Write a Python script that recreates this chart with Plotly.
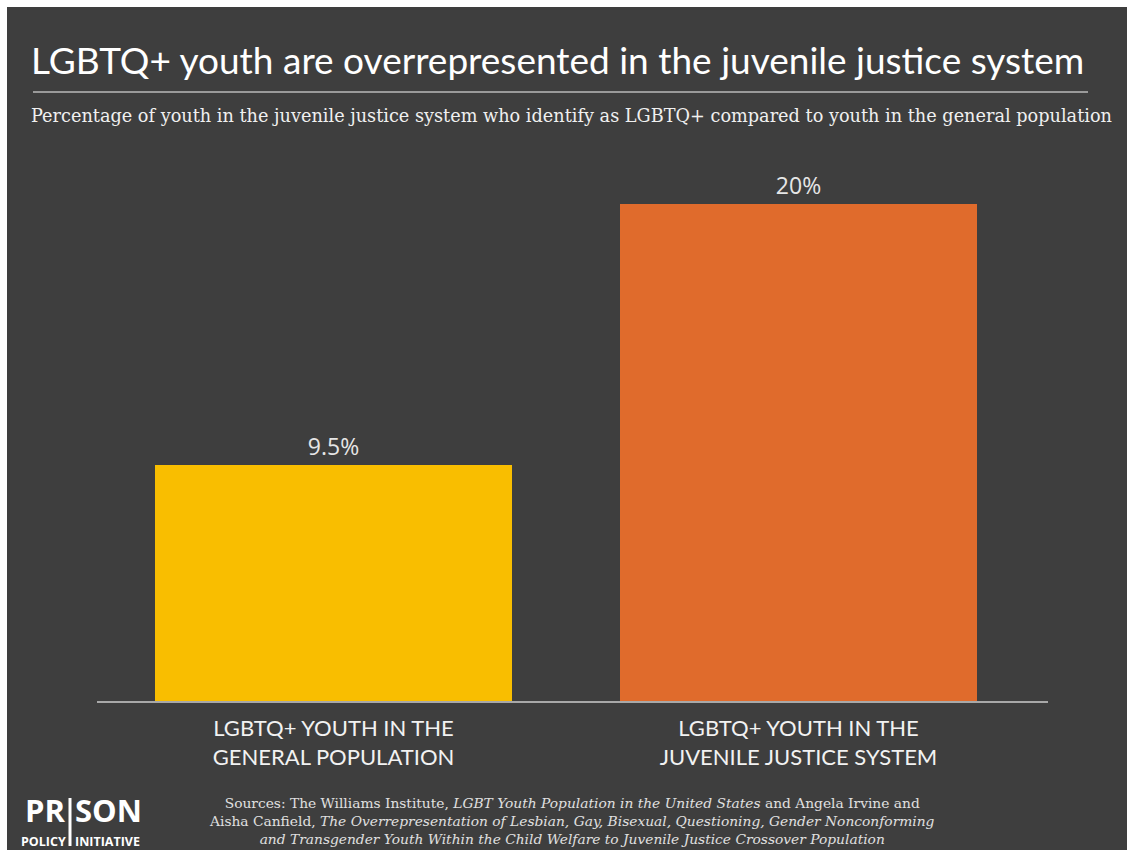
import plotly.graph_objects as go

categories = ["LGBTQ+ YOUTH IN THE<br>GENERAL POPULATION",
              "LGBTQ+ YOUTH IN THE<br>JUVENILE JUSTICE SYSTEM"]
values = [9.5, 20]
value_labels = ["9.5%", "20%"]
bar_colors = ["#F9BE00", "#E06B2C"]

title_text = "LGBTQ+ youth are overrepresented in the juvenile justice system"
subtitle_text = ("Percentage of youth in the juvenile justice system who identify as LGBTQ+ "
                 "compared to youth in the general population")
source_text = ("Sources: The Williams Institute, <i>LGBT Youth Population in the United States</i> and Angela Irvine and<br>"
               "Aisha Canfield, <i>The Overrepresentation of Lesbian, Gay, Bisexual, Questioning, Gender Nonconforming</i><br>"
               "<i>and Transgender Youth Within the Child Welfare to Juvenile Justice Crossover Population</i>")

W, H = 1127, 850
L, R, T, B = 97, 79, 154, 148
pw, ph = W - L - R, H - T - B

def px(x):
    return (x - L) / pw

def py(y):
    return (H - B - y) / ph

BG = "#3e3e3e"
FUT = "Lato, 'Open Sans', sans-serif"
SERIF = "'DejaVu Serif', 'Liberation Serif', serif"
SANS = "'Open Sans', sans-serif"

fig = go.Figure()
xs = list(range(len(values)))
fig.add_trace(go.Bar(
    x=xs, y=values, width=0.768,
    marker=dict(color=bar_colors, line=dict(width=0)),
    text=value_labels, textposition="outside",
    textfont=dict(family=SANS, size=23, color="#e6e6e6"),
    cliponaxis=False, hoverinfo="skip",
))

fig.update_layout(
    width=W, height=H,
    margin=dict(l=L, r=R, t=T, b=B, autoexpand=False),
    paper_bgcolor=BG, plot_bgcolor="rgba(0,0,0,0)",
    showlegend=False,
    bargap=0,
    xaxis=dict(range=[-0.5086, 1.5366], tickvals=xs, ticktext=categories,
               showgrid=False, zeroline=False, showline=False, ticks="",
               ticklabelstandoff=11,
               tickfont=dict(family=FUT, size=22, color="#f2f2f2"),
               fixedrange=True),
    yaxis=dict(range=[0, 22], visible=False, fixedrange=True),
    shapes=[
        # baseline
        dict(type="line", xref="paper", yref="paper", x0=0, x1=1, y0=0, y1=0,
             line=dict(color="#a8a8a8", width=2)),
        # title separator
        dict(type="line", xref="paper", yref="paper", x0=px(33), x1=px(1088),
             y0=py(92), y1=py(92), line=dict(color="#9a9a9a", width=2)),
        # white outer border strips
        dict(type="rect", xref="paper", yref="paper", x0=px(-5), x1=px(W + 5),
             y0=py(7), y1=py(-5), fillcolor="white", line=dict(width=0)),
        dict(type="rect", xref="paper", yref="paper", x0=px(-5), x1=px(7),
             y0=py(-5), y1=py(H + 5), fillcolor="white", line=dict(width=0)),
        # logo separator (the "I")
        dict(type="line", xref="paper", yref="paper", x0=px(70), x1=px(70),
             y0=py(798), y1=py(846), line=dict(color="white", width=3)),
    ],
    annotations=[
        dict(text=title_text, xref="paper", yref="paper", x=px(557), y=py(60),
             xanchor="center", yanchor="middle", showarrow=False,
             font=dict(family=FUT, size=37, color="white")),
        dict(text=subtitle_text, xref="paper", yref="paper", x=px(571), y=py(116),
             xanchor="center", yanchor="middle", showarrow=False,
             font=dict(family=SERIF, size=17.7, color="#f0f0f0")),
        dict(text=source_text, xref="paper", yref="paper", x=px(572), y=py(821),
             xanchor="center", yanchor="middle", showarrow=False, align="center",
             font=dict(family=SERIF, size=13.8, color="#e0e0e0")),
        dict(text="<b>PR</b>", xref="paper", yref="paper", x=px(67), y=py(810),
             xanchor="right", yanchor="middle", showarrow=False,
             font=dict(family=SANS, size=31, color="white")),
        dict(text="<b>SON</b>", xref="paper", yref="paper", x=px(73), y=py(810),
             xanchor="left", yanchor="middle", showarrow=False,
             font=dict(family=SANS, size=31, color="white")),
        dict(text="<b>POLICY</b>", xref="paper", yref="paper", x=px(68), y=py(841),
             xanchor="right", yanchor="middle", showarrow=False,
             font=dict(family=SANS, size=12.5, color="white")),
        dict(text="<b>INITIATIVE</b>", xref="paper", yref="paper", x=px(73), y=py(841),
             xanchor="left", yanchor="middle", showarrow=False,
             font=dict(family=SANS, size=12.5, color="white")),
    ],
)

fig.write_html("out.html", config=dict(displayModeBar=False))
